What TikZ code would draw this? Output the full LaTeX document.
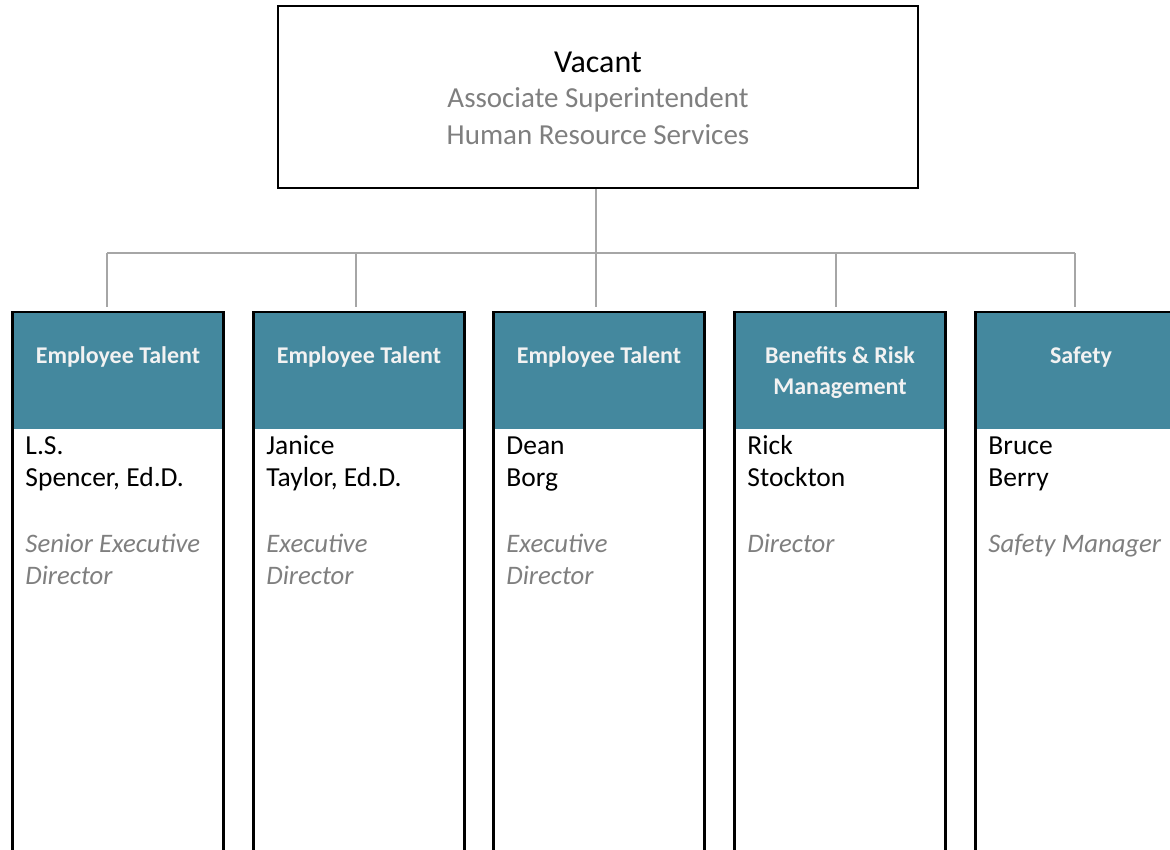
\documentclass[tikz,border=0pt]{standalone}
\usepackage{fontspec}
\setmainfont{Carlito}
\usetikzlibrary{positioning, calc}

\definecolor{hdteal}{RGB}{68,136,158}
\definecolor{hdtext}{RGB}{242,242,242}
\definecolor{subgray}{RGB}{127,127,127}
\definecolor{linegray}{RGB}{166,166,166}

\begin{document}
\begin{tikzpicture}[
  x=1pt, y=-1pt,
  link/.style={draw=linegray, line width=1.5pt},
  topbox/.style={draw, line width=2.5pt, minimum width=640pt, minimum height=182pt},
  toptext/.style={text width=600pt, align=flush center, anchor=base, inner sep=0, font=\fontsize{29}{36}\selectfont},
  headbox/.style={fill=hdteal, minimum width=211pt, minimum height=118pt, anchor=north, inner sep=0},
  colbox/.style={draw, line width=2.5pt, minimum width=211pt, minimum height=560pt, anchor=north, inner sep=0},
  headtext/.style={text=hdtext, text width=200pt, font=\fontsize{24}{31}\selectfont\bfseries, align=flush center, anchor=base, inner sep=0},
  nametext/.style={text width=190pt, anchor=base west, align=flush left, font=\fontsize{27.5}{32}\selectfont, inner sep=0},
  roletext/.style={nametext, text=subgray, font=\fontsize{26.7}{32}\selectfont\itshape},
  ]
  \useasboundingbox (0,0) rectangle (1170,850);

  % Top position
  \node[topbox] (head) at (598,97) {};
  \node[toptext] (title) at ($(head.north)+(0,68)$) {{\fontsize{32}{36}\selectfont Vacant}\\[-1pt]
    \textcolor{subgray}{Associate Superintendent}\\[1pt]\textcolor{subgray}{Human Resource Services}};

  % Departments
  \foreach \cx/\dx/\dept/\who/\role [count=\i] in {
      118/-11/{Employee Talent}/{L.S.\\Spencer, Ed.D.}/{Senior Executive\\Director},
      359/-3/{Employee Talent}/{Janice\\Taylor, Ed.D.}/{Executive\\Director},
      599/-3/{Employee Talent}/{Dean\\Borg}/{Executive\\Director},
      840/-4/{Benefits \& Risk\\Management}/{Rick\\Stockton}/{Director},
      1081/-6/{Safety}/{Bruce\\Berry}/{Safety Manager}%
    } {
      \node[headbox] (hd\i) at (\cx,311) {};
      \node[colbox] (col\i) at (\cx,311) {};
      \coordinate (drop\i) at ($(col\i.north)+(\dx,-4)$);
      \node[headtext] (dept\i) at ($(col\i.north)+(0,52)$) {\dept};
      \node[nametext] (who\i) at ($(col\i.north west)+(14,143)$) {\who};
      \node[roletext] (role\i) at ($(col\i.north west)+(14,241)$) {\role};
    }

  % Connectors
  \coordinate (bus) at ($(head.south)+(-2,64)$);
  \draw[link] (head.south -| bus) -- (bus);
  \draw[link] (drop1 |- bus) -- (drop5 |- bus);
  \foreach \i in {1,...,5}
  \draw[link] (drop\i |- bus) -- (drop\i);

\end{tikzpicture}
\end{document}
